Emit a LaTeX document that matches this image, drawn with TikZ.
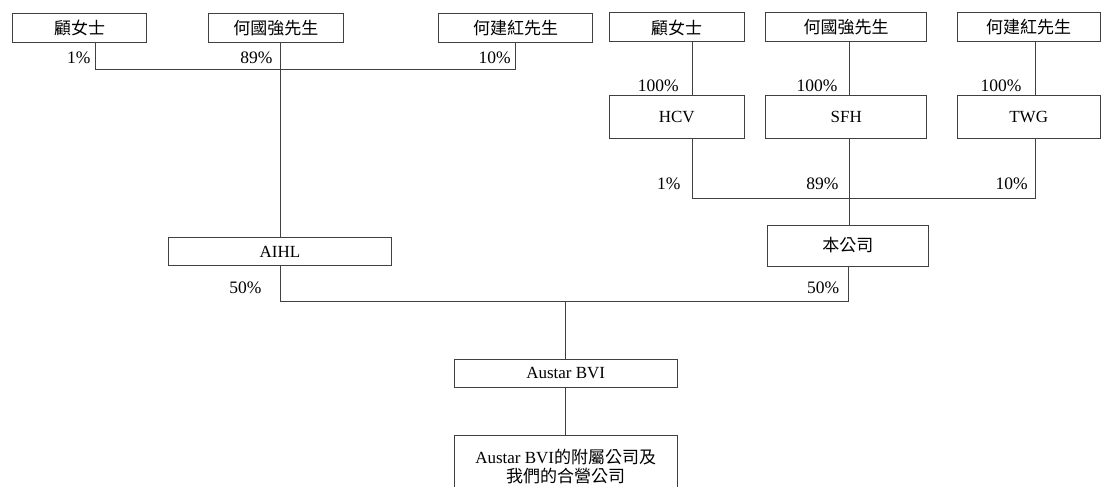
\documentclass[tikz,border=0pt]{standalone}
\usepackage{fontspec}
\setmainfont{Liberation Serif}
\newfontfamily\cjk{Noto Sans CJK TC}
\begin{document}
\begin{tikzpicture}[x=1pt,y=-1pt,
  box/.style={draw=black!75, line width=1pt, inner sep=0pt, fill=white,
    font=\fontsize{17}{19}\selectfont, align=center},
  pct/.style={anchor=base east, inner sep=0pt, font=\fontsize{17.5}{19}\selectfont},
  ln/.style={draw=black!75, line width=1pt}]
\useasboundingbox (0,0) rectangle (1101,487);
\clip (0,0) rectangle (1101,487);
% top-left owners
\node[box, minimum width=134pt, minimum height=29pt] (L1) at (79.7,27.8) {\cjk 顧女士};
\node[box, minimum width=135pt, minimum height=29pt] (L2) at (275.8,27.8) {\cjk 何國強先生};
\node[box, minimum width=154pt, minimum height=29pt] (L3) at (515.5,27.8) {\cjk 何建紅先生};
% top-right owners
\node[box, minimum width=135pt, minimum height=29pt] (R1) at (676.7,27.5) {\cjk 顧女士};
\node[box, minimum width=161pt, minimum height=29pt] (R2) at (846.2,27.5) {\cjk 何國強先生};
\node[box, minimum width=143pt, minimum height=29pt] (R3) at (1028.7,27.5) {\cjk 何建紅先生};
% holding companies
\node[box, minimum width=135pt, minimum height=42pt] (HCV) at (676.7,117) {HCV};
\node[box, minimum width=161pt, minimum height=42pt] (SFH) at (846.2,117) {SFH};
\node[box, minimum width=143pt, minimum height=42pt] (TWG) at (1028.7,117) {TWG};
\node[box, minimum width=161pt, minimum height=41pt] (CO) at (847.8,245.5) {\cjk 本公司};
\node[box, minimum width=223pt, minimum height=28.4pt] (AIHL) at (280,251.5) {AIHL};
\node[box, minimum width=223pt, minimum height=28pt] (BVI) at (565.7,373.3) {Austar BVI};
\node[box, minimum width=223pt, minimum height=64pt] (SUB) at (565.7,467) {Austar BVI{\cjk 的附屬公司及}\\{\cjk 我們的合營公司}};
% line positions
\coordinate (xa) at (95.7,0);
\coordinate (xb) at (280,0);
\coordinate (xc) at (515,0);
\coordinate (xd) at (692.3,0);
\coordinate (xe) at (849,0);
\coordinate (xf) at (1035,0);
\coordinate (xg) at (848.3,0);
\coordinate (ya) at (0,69.3);
\coordinate (yb) at (0,198.3);
\coordinate (yc) at (0,301.7);
% left ownership
\draw[ln] (L1.south -| xa) -- (xa |- ya) -- (xc |- ya) -- (L3.south -| xc);
\draw[ln] (L2.south -| xb) -- (AIHL.north -| xb);
% right ownership
\draw[ln] (R1.south -| xd) -- (HCV.north -| xd);
\draw[ln] (R2.south -| xe) -- (SFH.north -| xe);
\draw[ln] (R3.south -| xf) -- (TWG.north -| xf);
\draw[ln] (HCV.south -| xd) -- (xd |- yb) -- (xf |- yb) -- (TWG.south -| xf);
\draw[ln] (SFH.south -| xe) -- (CO.north -| xe);
% joint venture
\draw[ln] (AIHL.south -| xb) -- (xb |- yc) -- (xg |- yc) -- (CO.south -| xg);
\draw[ln] (BVI.north |- yc) -- (BVI.north);
\draw[ln] (BVI.south) -- (SUB.north);
% percentages
\node[pct] (p1) at (90.7,64) {1\%};
\node[pct] (p2) at (272.7,64) {89\%};
\node[pct] (p3) at (511,64) {10\%};
\node[pct] (p4) at (679,91.5) {100\%};
\node[pct] (p5) at (837.6,91.5) {100\%};
\node[pct] (p6) at (1021.7,91.5) {100\%};
\node[pct] (p7) at (680.7,189) {1\%};
\node[pct] (p8) at (838.6,189) {89\%};
\node[pct] (p9) at (1028,189) {10\%};
\node[pct] (p10) at (261.7,293) {50\%};
\node[pct] (p11) at (839.3,293) {50\%};
\end{tikzpicture}
\end{document}
